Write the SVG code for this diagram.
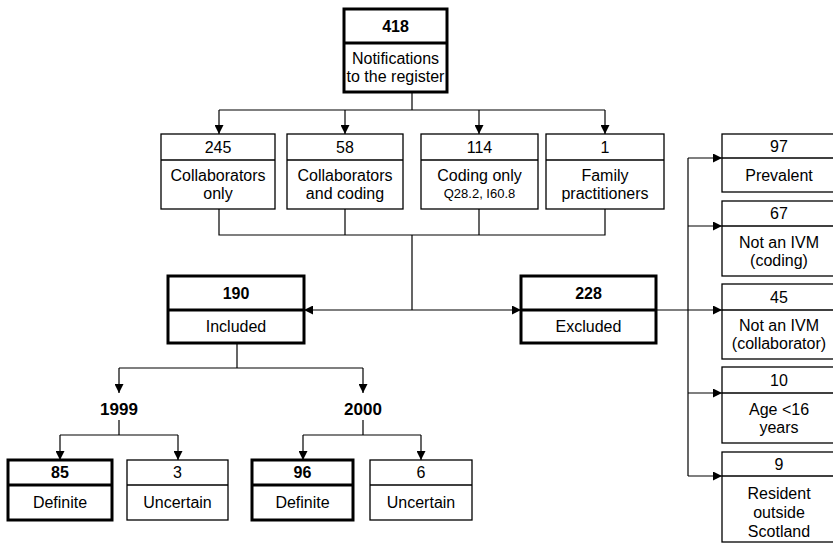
<svg xmlns="http://www.w3.org/2000/svg" width="833" height="543" viewBox="0 0 833 543">
<defs>
<marker id="ah" viewBox="0 0 10 10" refX="10" refY="5" markerWidth="9" markerHeight="9" markerUnits="userSpaceOnUse" orient="auto-start-reverse">
<path d="M0,0 L10,5 L0,10 z" fill="#000"/>
</marker>
<style>
.b{fill:#fff;stroke:#000;stroke-width:1.3}
.t{fill:#fff;stroke:#000;stroke-width:3}
.d{stroke:#000;stroke-width:1.3}
.dt{stroke:#000;stroke-width:3}
.c{fill:none;stroke:#000;stroke-width:1.2}
text{font-family:"Liberation Sans",Arial,sans-serif;font-size:16px;fill:#000;text-anchor:middle}
.n{font-weight:bold}
.s{font-size:13px}
.y{font-weight:bold;font-size:17px}
</style>
</defs>
<rect width="833" height="543" fill="#fff"/>
<g id="connectors">
<path class="c" d="M412,92 V110 M219,110 H605"/>
<path class="c" d="M219,110 V134" marker-end="url(#ah)"/>
<path class="c" d="M345,110 V134" marker-end="url(#ah)"/>
<path class="c" d="M479,110 V134" marker-end="url(#ah)"/>
<path class="c" d="M605,110 V134" marker-end="url(#ah)"/>
<path class="c" d="M219,209 V235 H605 V209 M345,209 V235 M479,209 V235 M412,235 V310"/>
<path class="c" d="M304,310 H521" marker-start="url(#ah)" marker-end="url(#ah)"/>
<path class="c" d="M656,310 H722" marker-end="url(#ah)"/>
<path class="c" d="M688,158 V476"/>
<path class="c" d="M688,158 H722" marker-end="url(#ah)"/>
<path class="c" d="M688,226 H722" marker-end="url(#ah)"/>
<path class="c" d="M688,393 H722" marker-end="url(#ah)"/>
<path class="c" d="M688,476 H722" marker-end="url(#ah)"/>
<path class="c" d="M237,343 V368 M119,368 H363"/>
<path class="c" d="M119,368 V393" marker-end="url(#ah)"/>
<path class="c" d="M363,368 V393" marker-end="url(#ah)"/>
<path class="c" d="M119,420 V435 M60,435 H178 M363,420 V435 M303,435 H421"/>
<path class="c" d="M60,435 V460" marker-end="url(#ah)"/>
<path class="c" d="M178,435 V460" marker-end="url(#ah)"/>
<path class="c" d="M303,435 V460" marker-end="url(#ah)"/>
<path class="c" d="M421,435 V460" marker-end="url(#ah)"/>
</g>
<g id="n418">
<rect class="t" x="344" y="9" width="103" height="83"/>
<line class="dt" x1="344" y1="43" x2="447" y2="43"/>
<text class="n" x="395.5" y="32">418</text>
<text x="395.5" y="64">Notifications</text>
<text x="395.5" y="82">to the register</text>
</g>
<g id="n245">
<rect class="b" x="161" y="134" width="114" height="75"/>
<line class="d" x1="161" y1="160" x2="275" y2="160"/>
<text x="218" y="153">245</text>
<text x="218" y="181">Collaborators</text>
<text x="218" y="199">only</text>
</g>
<g id="n58">
<rect class="b" x="287" y="134" width="116" height="75"/>
<line class="d" x1="287" y1="160" x2="403" y2="160"/>
<text x="345" y="153">58</text>
<text x="345" y="181">Collaborators</text>
<text x="345" y="199">and coding</text>
</g>
<g id="n114">
<rect class="b" x="421" y="134" width="117" height="75"/>
<line class="d" x1="421" y1="160" x2="538" y2="160"/>
<text x="479.5" y="153">114</text>
<text x="479.5" y="181">Coding only</text>
<text class="s" x="479.5" y="198">Q28.2, I60.8</text>
</g>
<g id="n1">
<rect class="b" x="546" y="134" width="118" height="75"/>
<line class="d" x1="546" y1="160" x2="664" y2="160"/>
<text x="605" y="153">1</text>
<text x="605" y="181">Family</text>
<text x="605" y="199">practitioners</text>
</g>
<g id="n190">
<rect class="t" x="168" y="276" width="136" height="67"/>
<line class="dt" x1="168" y1="310" x2="304" y2="310"/>
<text class="n" x="236" y="299">190</text>
<text x="236" y="332">Included</text>
</g>
<g id="n228">
<rect class="t" x="521" y="276" width="135" height="67"/>
<line class="dt" x1="521" y1="310" x2="656" y2="310"/>
<text class="n" x="588.5" y="299">228</text>
<text x="588.5" y="332">Excluded</text>
</g>
<g id="n97">
<rect class="b" x="722" y="134" width="118" height="58"/>
<line class="d" x1="722" y1="158" x2="840" y2="158"/>
<text x="779" y="152">97</text>
<text x="779" y="181">Prevalent</text>
</g>
<g id="n67">
<rect class="b" x="722" y="201" width="118" height="75"/>
<line class="d" x1="722" y1="226" x2="840" y2="226"/>
<text x="779" y="219">67</text>
<text x="779" y="248">Not an IVM</text>
<text x="779" y="266">(coding)</text>
</g>
<g id="n45">
<rect class="b" x="722" y="284" width="118" height="75"/>
<line class="d" x1="722" y1="310" x2="840" y2="310"/>
<text x="779" y="303">45</text>
<text x="779" y="331">Not an IVM</text>
<text x="779" y="349">(collaborator)</text>
</g>
<g id="n10">
<rect class="b" x="722" y="367" width="118" height="76"/>
<line class="d" x1="722" y1="393" x2="840" y2="393"/>
<text x="779" y="386">10</text>
<text x="779" y="415">Age &lt;16</text>
<text x="779" y="433">years</text>
</g>
<g id="n9">
<rect class="b" x="722" y="452" width="118" height="90"/>
<line class="d" x1="722" y1="476" x2="840" y2="476"/>
<text x="779" y="470">9</text>
<text x="779" y="499">Resident</text>
<text x="779" y="518">outside</text>
<text x="779" y="537">Scotland</text>
</g>
<g id="y1999">
<text class="y" x="119" y="415">1999</text>
</g>
<g id="y2000">
<text class="y" x="363" y="415">2000</text>
</g>
<g id="n85">
<rect class="t" x="8" y="460" width="104" height="60"/>
<line class="dt" x1="8" y1="485" x2="112" y2="485"/>
<text class="n" x="60" y="478">85</text>
<text x="60" y="508">Definite</text>
</g>
<g id="n3">
<rect class="b" x="127" y="460" width="101" height="60"/>
<line class="d" x1="127" y1="485" x2="228" y2="485"/>
<text x="177.5" y="478">3</text>
<text x="177.5" y="508">Uncertain</text>
</g>
<g id="n96">
<rect class="t" x="252" y="460" width="101" height="60"/>
<line class="dt" x1="252" y1="485" x2="353" y2="485"/>
<text class="n" x="302.5" y="478">96</text>
<text x="302.5" y="508">Definite</text>
</g>
<g id="n6">
<rect class="b" x="370" y="460" width="102" height="60"/>
<line class="d" x1="370" y1="485" x2="472" y2="485"/>
<text x="421" y="478">6</text>
<text x="421" y="508">Uncertain</text>
</g>
</svg>
